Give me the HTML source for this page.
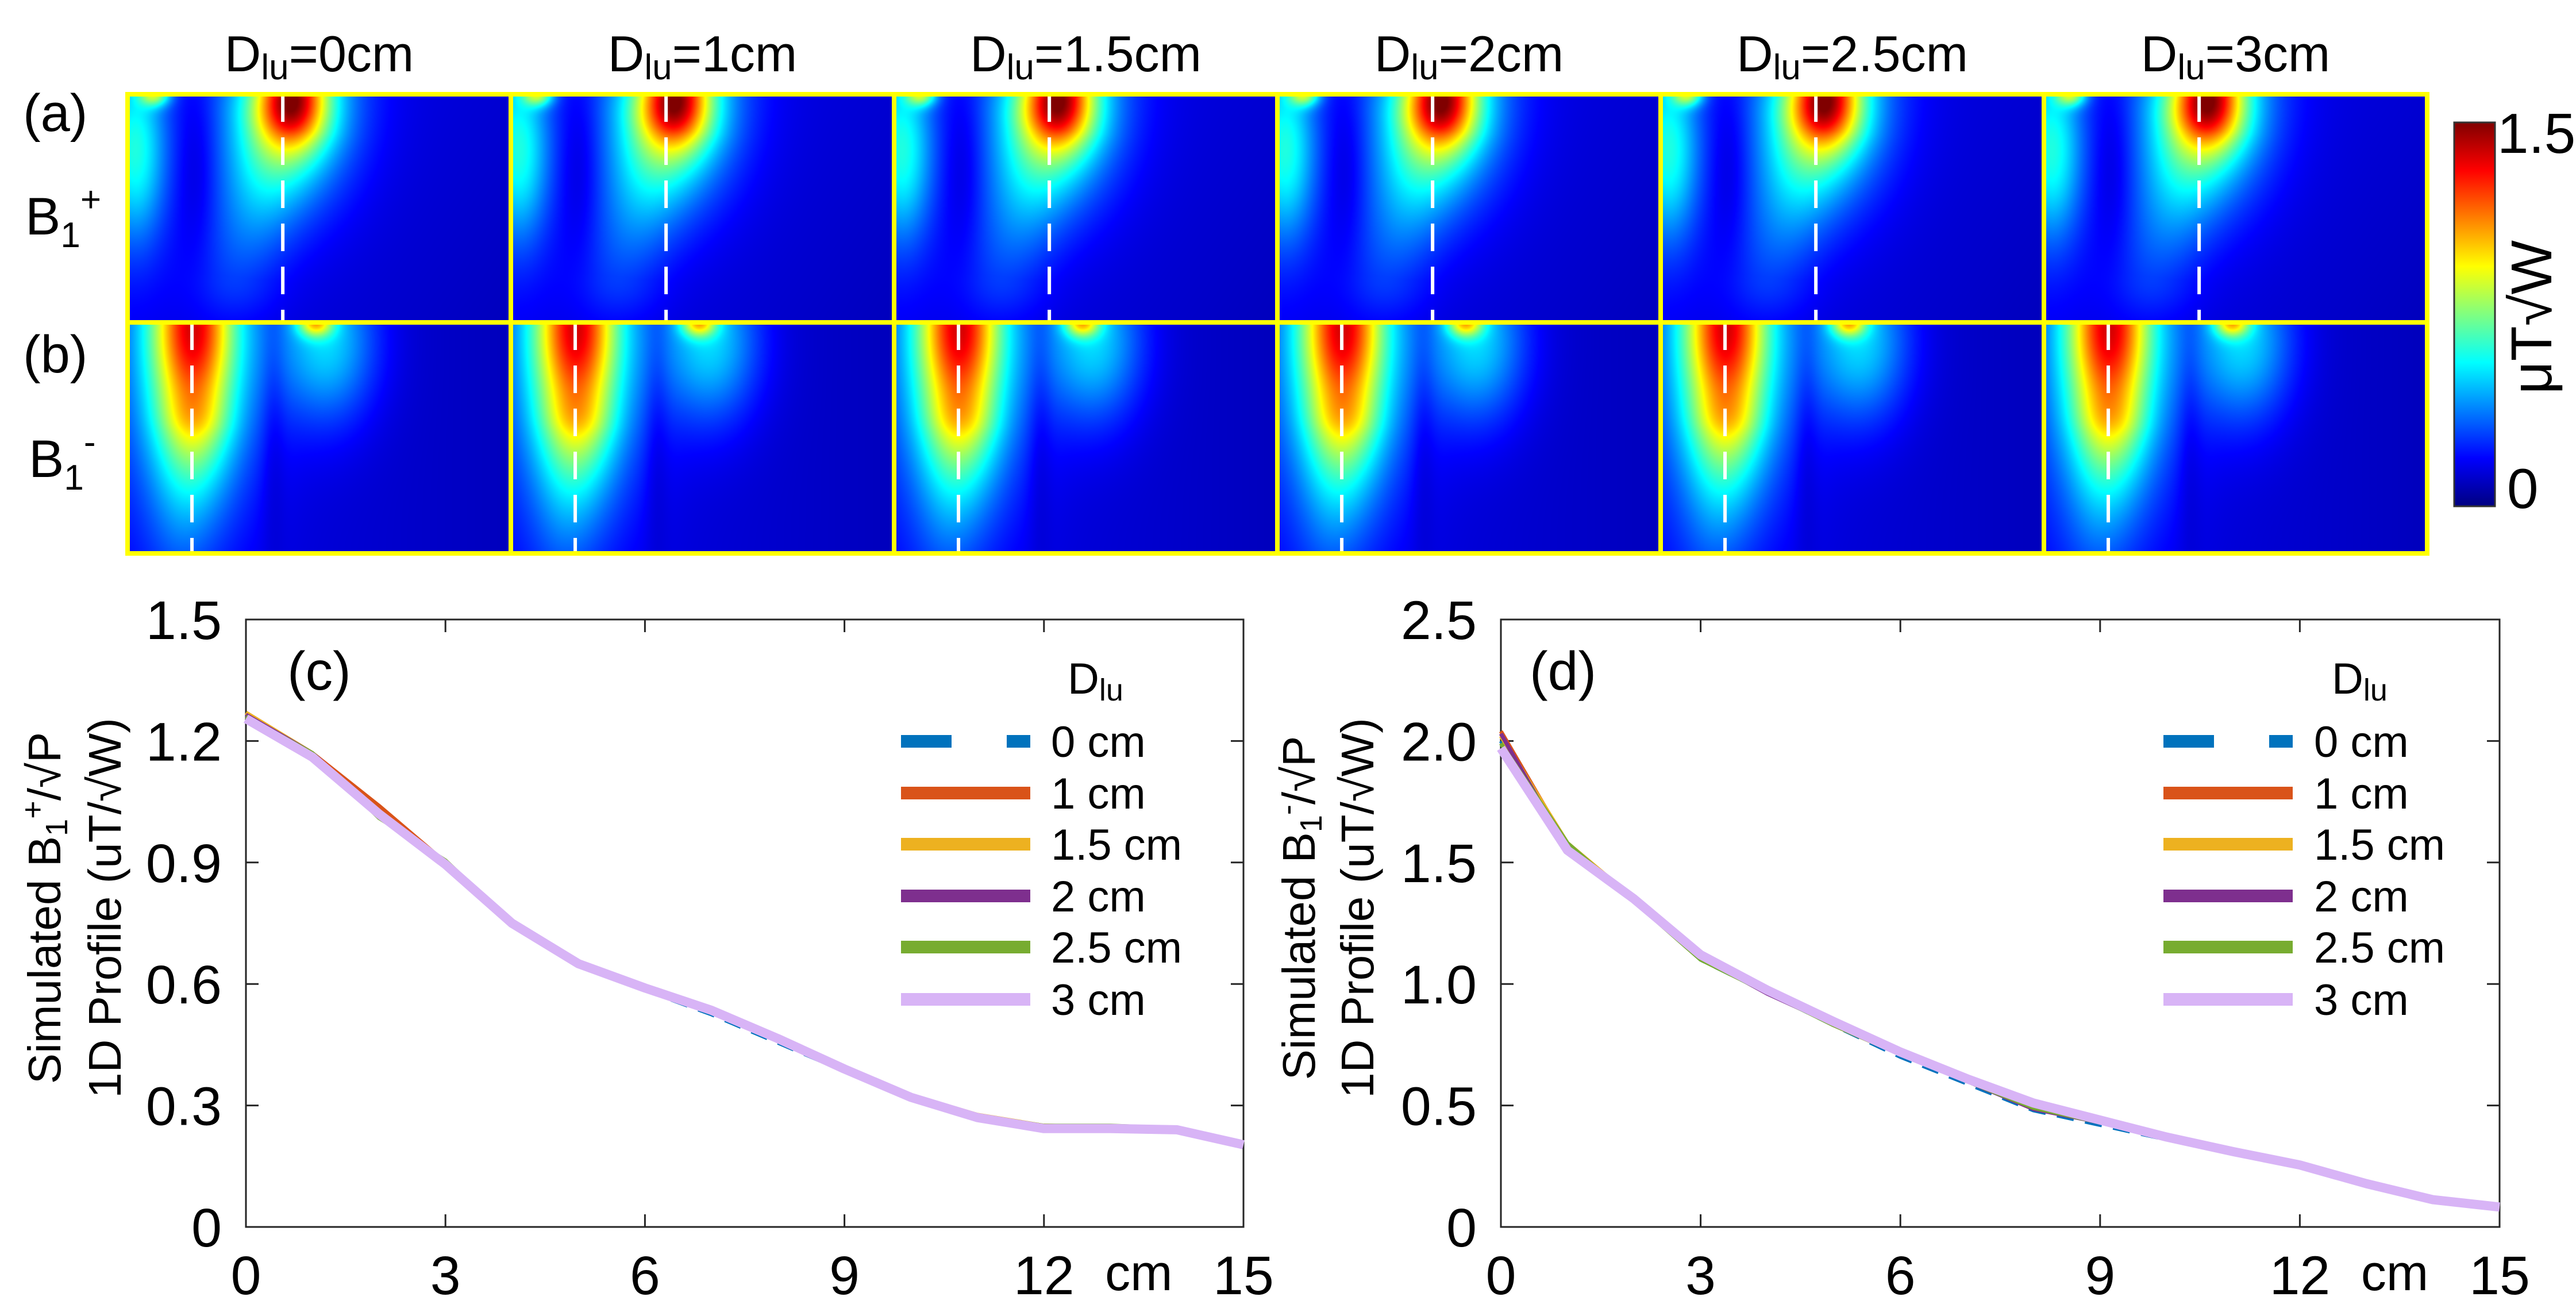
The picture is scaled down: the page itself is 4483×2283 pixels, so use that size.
<!DOCTYPE html>
<html><head><meta charset="utf-8">
<style>
html,body{margin:0;padding:0;background:#fff;}
body{width:4483px;height:2283px;position:relative;overflow:hidden;font-family:"Liberation Sans",sans-serif;}
canvas{position:absolute;}
svg{position:absolute;left:0;top:0;}
text{font-family:"Liberation Sans",sans-serif;fill:#000;}
</style></head>
<body>
<div id="maps"></div>
<svg id="svg" width="4483" height="2283" viewBox="0 0 4483 2283">
  <defs>
    <linearGradient id="jet" x1="0" y1="1" x2="0" y2="0">
      <stop offset="0" stop-color="#000080"/>
      <stop offset="0.125" stop-color="#0000ff"/>
      <stop offset="0.375" stop-color="#00ffff"/>
      <stop offset="0.5" stop-color="#80ff80"/>
      <stop offset="0.625" stop-color="#ffff00"/>
      <stop offset="0.875" stop-color="#ff0000"/>
      <stop offset="1" stop-color="#800000"/>
    </linearGradient>
  </defs>
  <g id="titles"></g>
  <g font-size="92">
    <text x="40" y="228">(a)</text>
    <text x="44" y="408">B<tspan font-size="62" dy="22">1</tspan><tspan font-size="62" dy="-62">+</tspan></text>
    <text x="40" y="648">(b)</text>
    <text x="50" y="830">B<tspan font-size="62" dy="22">1</tspan><tspan font-size="62" dy="-62">-</tspan></text>
  </g>
  <g>
    <rect x="4271" y="213" width="71" height="668" fill="url(#jet)" stroke="#333" stroke-width="3"/>
    <text x="4346" y="266" font-size="98">1.5</text>
    <text x="4363" y="884" font-size="98">0</text>
    <text x="0" y="0" font-size="100" text-anchor="middle" transform="translate(4440,552) rotate(-90)">μT√W</text>
  </g>
  <g id="plotc"></g>
  <g id="plotd"></g>
</svg>
<script>
// ---- chart data ----
const xCm = [0,1,2,3,4,5,6,7,8,9,10,11,12,13,14,15];
const seriesNames = ['0 cm','1 cm','1.5 cm','2 cm','2.5 cm','3 cm'];
const seriesColors = ['#0072BD','#D95319','#EDB120','#7E2F8E','#77AC30','#D8B4F6'];
const c0 = [1.265,1.17,1.02,0.90,0.75,0.645,0.585,0.525,0.455,0.385,0.32,0.275,0.248,0.248,0.243,0.206];
const c1 = [1.27,1.17,1.04,0.90,0.755,0.655,0.59,0.53,0.465,0.39,0.325,0.275,0.25,0.248,0.243,0.206];
const c15 = [1.27,1.17,1.02,0.90,0.75,0.655,0.59,0.535,0.47,0.395,0.325,0.277,0.25,0.248,0.244,0.206];
const c2 = [1.265,1.17,1.02,0.895,0.75,0.65,0.59,0.53,0.46,0.39,0.322,0.275,0.248,0.248,0.243,0.206];
const c25 = [1.26,1.17,1.01,0.905,0.75,0.65,0.59,0.535,0.465,0.395,0.325,0.275,0.25,0.25,0.244,0.206];
const c3 = [1.255,1.16,1.02,0.895,0.75,0.65,0.59,0.535,0.465,0.39,0.32,0.27,0.243,0.243,0.24,0.203];
const d0 = [2.00,1.56,1.35,1.10,0.965,0.83,0.70,0.59,0.48,0.42,0.36,0.305,0.252,0.178,0.113,0.085];
const d1 = [2.04,1.57,1.35,1.12,0.97,0.83,0.71,0.60,0.49,0.43,0.365,0.31,0.253,0.18,0.114,0.085];
const d15 = [2.02,1.58,1.35,1.11,0.975,0.835,0.71,0.60,0.49,0.435,0.365,0.31,0.255,0.18,0.114,0.085];
const d2 = [2.03,1.55,1.34,1.11,0.96,0.835,0.72,0.60,0.485,0.43,0.365,0.308,0.253,0.178,0.113,0.085];
const d25 = [1.99,1.58,1.34,1.10,0.965,0.83,0.71,0.60,0.49,0.43,0.362,0.31,0.256,0.182,0.114,0.085];
const d3 = [1.97,1.55,1.35,1.12,0.975,0.845,0.72,0.61,0.51,0.44,0.37,0.31,0.255,0.178,0.112,0.082];
const seriesC = [c0,c1,c15,c2,c25,c3];
const seriesD = [d0,d1,d15,d2,d25,d3];
const xTicks = [0,3,6,9,12,15];
const yTicksC = [0,0.3,0.6,0.9,1.2,1.5];
const yTickLabelsC = ['0','0.3','0.6','0.9','1.2','1.5'];
const yTicksD = [0,0.5,1.0,1.5,2.0,2.5];
const yTickLabelsD = ['0','0.5','1.0','1.5','2.0','2.5'];
const panelTitles = ['0cm','1cm','1.5cm','2cm','2.5cm','3cm'];

const NS='http://www.w3.org/2000/svg';
function mk(tag,attrs,parent){const e=document.createElementNS(NS,tag);for(const k in attrs)e.setAttribute(k,attrs[k]);if(parent)parent.appendChild(e);return e;}

// ---- heat maps ----
const PX0=222, PW=667, ROWA=[164,561], ROWB=[561,963];
function jet(t){t=Math.max(0,Math.min(1,t));
  let r,g,b;
  r=Math.min(4*t-1.5,-4*t+4.5);g=Math.min(4*t-0.5,-4*t+3.5);b=Math.min(4*t+0.5,-4*t+2.5);
  return [Math.max(0,Math.min(1,r))*255,Math.max(0,Math.min(1,g))*255,Math.max(0,Math.min(1,b))*255];}
function gauss(u,v,cx,cy,sx,sy){const a=(u-cx)/sx,b=(v-cy)/sy;return Math.exp(-(a*a+b*b));}
function segG(u,v,x1,y1,x2,y2,s,amp1,amp2){const dx=x2-x1,dy=y2-y1;let t=((u-x1)*dx+(v-y1)*dy)/(dx*dx+dy*dy);t=Math.max(0,Math.min(1,t));const px=x1+t*dx,py=y1+t*dy;const d=Math.hypot(u-px,(v-py)*0.6);return (amp1+(amp2-amp1)*t)*Math.exp(-(d*d)/(s*s));}
function fieldA(u,v){
  let t=0.11-0.05*u+0.02*(1-v);
  t+=segG(u,v,0.40,0.15,0.28,0.8,0.12,0.22,0.08);
  t+=0.48*gauss(u,v,0.43,0.0,0.085,0.2);
  t+=0.30*gauss(u,v,0.43,0.0,0.17,0.45);
  t+=0.28*gauss(u,v,0.02,0.25,0.08,0.4);
  t+=0.33*gauss(u,v,0.07,0.0,0.04,0.05);
  t-=0.05*gauss(u,v,0.18,0.3,0.05,0.4);
  return t;}
function fieldB(u,v){
  let t=0.11-0.05*u;
  t+=0.50*gauss(u,v,0.17,0.0,0.10,0.45);
  t+=0.32*gauss(u,v,0.17,0.1,0.17,0.7);
  t+=segG(u,v,0.17,0.45,0.14,1.0,0.09,0.15,0.05);
  t+=0.4*gauss(u,v,0.49,0.0,0.045,0.06);
  t+=0.25*gauss(u,v,0.52,0.08,0.13,0.35);
  t-=0.04*gauss(u,v,0.38,0.4,0.03,0.6);
  return t;}
const maps=document.getElementById('maps');
function drawMap(x,y,w,h,fn,name){
  const c=document.createElement('canvas');c.width=w;c.height=h;c.style.left=x+'px';c.style.top=y+'px';
  
  
  maps.appendChild(c);
  const ctx=c.getContext('2d');const im=ctx.createImageData(w,h);
  for(let j=0;j<h;j++)for(let i=0;i<w;i++){const col=jet(fn(i/w,j/h));const k=(j*w+i)*4;im.data[k]=col[0];im.data[k+1]=col[1];im.data[k+2]=col[2];im.data[k+3]=255;}
  ctx.putImageData(im,0,0);}
const svg=document.getElementById('svg');
const borders=mk('g',{},svg);


const tg=document.getElementById('titles');
for(let p=0;p<6;p++){
  const x=PX0+p*PW;
  drawMap(x,ROWA[0],PW,ROWA[1]-ROWA[0],fieldA,'b1-plus-map-'+p);
  drawMap(x,ROWB[0],PW,ROWB[1]-ROWB[0],fieldB,'b1-minus-map-'+p);
  const la=mk('line',{x1:x+0.405*PW,x2:x+0.405*PW,y1:ROWA[0],y2:ROWA[1],stroke:'#fff','stroke-width':6,'stroke-dasharray':'48 27'},borders);
  
  
  const lb=mk('line',{x1:x+0.168*PW,x2:x+0.168*PW,y1:ROWB[0],y2:ROWB[1],stroke:'#fff','stroke-width':6,'stroke-dasharray':'48 27'},borders);
  
  
  const ra=mk('rect',{x:x,y:ROWA[0],width:PW,height:ROWA[1]-ROWA[0],fill:'none',stroke:'#ffff00','stroke-width':8},borders);
  
  
  const rb=mk('rect',{x:x,y:ROWB[0],width:PW,height:ROWB[1]-ROWB[0],fill:'none',stroke:'#ffff00','stroke-width':8},borders);
  
  
  const t=mk('text',{x:x+PW/2,y:124,'font-size':88,'text-anchor':'middle'},tg);
  
  
  t.innerHTML='D<tspan font-size="62" dy="14">lu</tspan><tspan dy="-14">='+panelTitles[p]+'</tspan>';
}
svg.appendChild(tg);

// ---- line plots ----
function plot(g,L,R,T,B,ymax,series,yT,yTL,label,ytitle,leg){
  const sx=v=>L+(v-0)/15*(R-L), sy=v=>B-v/ymax*(B-T);
  const box=mk('rect',{x:L,y:T,width:R-L,height:B-T,fill:'none',stroke:'#262626','stroke-width':3},g);
  
  
  xTicks.forEach(v=>{
    mk('line',{x1:sx(v),x2:sx(v),y1:B,y2:B-22,stroke:'#262626','stroke-width':3},g);
    mk('line',{x1:sx(v),x2:sx(v),y1:T,y2:T+22,stroke:'#262626','stroke-width':3},g);
    const t=mk('text',{x:sx(v),y:2252,'font-size':95,'text-anchor':'middle'},g);
    
    
    t.textContent=v;
  });
  const cm=mk('text',{x:sx(12.3)+ (R-L)*0.075,y:2245,'font-size':88,'text-anchor':'middle'},g);
  
  
  cm.textContent='cm';
  yT.forEach((v,i)=>{
    mk('line',{x1:L,x2:L+22,y1:sy(v),y2:sy(v),stroke:'#262626','stroke-width':3},g);
    mk('line',{x1:R,x2:R-22,y1:sy(v),y2:sy(v),stroke:'#262626','stroke-width':3},g);
    const t=mk('text',{x:L-42,y:sy(v)+34,'font-size':95,'text-anchor':'end'},g);
    
    
    t.textContent=yTL[i];
  });
  series.forEach((s,k)=>{
    const d=s.map((v,i)=>(i?'L':'M')+sx(xCm[i]).toFixed(1)+','+sy(v).toFixed(1)).join(' ');
    const p=mk('path',{d:d,fill:'none',stroke:seriesColors[k],'stroke-width':k==5?16:7,'stroke-linejoin':'round'},g);
    if(k==0)p.setAttribute('stroke-dasharray','30 20');
    
    
  });
  const lab=mk('text',{x:label[0],y:label[1],'font-size':95},g);
  
  
  lab.textContent=label[2];
  const yt=mk('g',{},g);
  
  
  const t1=mk('text',{x:0,y:0,'font-size':80,'text-anchor':'middle',transform:'translate('+ytitle[0]+',1580) rotate(-90)'},yt);
  t1.innerHTML='Simulated B<tspan font-size="54" dy="12">1</tspan><tspan font-size="54" dy="-42">'+ytitle[2]+'</tspan><tspan dy="30">/√P</tspan>';
  const t2=mk('text',{x:0,y:0,'font-size':80,'text-anchor':'middle',transform:'translate('+ytitle[1]+',1580) rotate(-90)'},yt);
  t2.textContent='1D Profile (uT/√W)';
  const lg=mk('g',{},g);
  
  
  const lt=mk('text',{x:leg[3],y:1207,'font-size':76},lg);
  lt.innerHTML='D<tspan font-size="54" dy="12">lu</tspan>';
  const rows=[1290,1380,1469,1559,1648,1739];
  seriesNames.forEach((n,k)=>{
    const e=mk('g',{},lg);
    
    
    const ln=mk('line',{x1:leg[0],x2:leg[1],y1:rows[k],y2:rows[k],stroke:seriesColors[k],'stroke-width':22},e);
    if(k==0)ln.setAttribute('stroke-dasharray','88 96');
    const tx=mk('text',{x:leg[2],y:rows[k]+27,'font-size':76},e);
    tx.textContent=n;
  });
}
plot(document.getElementById('plotc'),428,2164,1078,2135,1.5,seriesC,yTicksC,yTickLabelsC,[500,1200,'(c)'],[105,210,'+'],[1568,1793,1829,1858]);
plot(document.getElementById('plotd'),2612,4350,1078,2135,2.5,seriesD,yTicksD,yTickLabelsD,[2662,1200,'(d)'],[2288,2390,'-'],[3765,3990,4027,4058]);
</script>
</body></html>
